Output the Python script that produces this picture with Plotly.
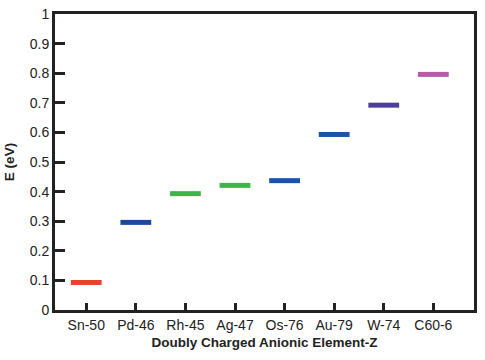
import plotly.graph_objects as go

categories = ["Sn-50", "Pd-46", "Rh-45", "Ag-47", "Os-76", "Au-79", "W-74", "C60-6"]
energies = [0.093, 0.296, 0.393, 0.421, 0.437, 0.593, 0.692, 0.796]
colors = ["#e8412f", "#1f479c", "#3db54b", "#3db54b", "#1a54a2", "#1a54a2", "#4d3f9a", "#b65ba8"]

fig = go.Figure()
fig.add_trace(go.Scatter(
    x=list(range(len(categories))), y=energies, mode="markers",
    marker=dict(symbol="line-ew", size=22, line=dict(width=5, color=colors), color=colors),
    hoverinfo="skip", showlegend=False))

fig.update_layout(
    width=485, height=360,
    margin=dict(l=55, r=11, t=14, b=50),
    paper_bgcolor="white", plot_bgcolor="white",
    font=dict(family="Liberation Sans, Arial, sans-serif", size=14, color="#222"),
)
fig.update_xaxes(
    range=[-0.63, 7.82], tickmode="array", tickvals=list(range(len(categories))),
    ticktext=categories, ticks="inside", ticklen=7, tickwidth=3, tickcolor="#222",
    showline=True, linewidth=3, linecolor="#222", mirror=True, showgrid=False, zeroline=False,
    automargin=False, ticklabeloverflow="allow",
    title=dict(text="<b>Doubly Charged Anionic Element-Z</b>", font=dict(size=13.5), standoff=6),
)
fig.update_yaxes(
    range=[0, 1], dtick=0.1, tick0=0, ticks="inside", ticklen=10, tickwidth=3, tickcolor="#222",
    showline=True, linewidth=3, linecolor="#222", mirror=True, showgrid=False, zeroline=False,
    automargin=False, ticklabeloverflow="allow",
    title=dict(text="<b>E (eV)</b>", font=dict(size=13.5), standoff=13),
)
fig.write_html("out.html", config={"displayModeBar": False},
               post_script="document.body.style.margin='0';")
